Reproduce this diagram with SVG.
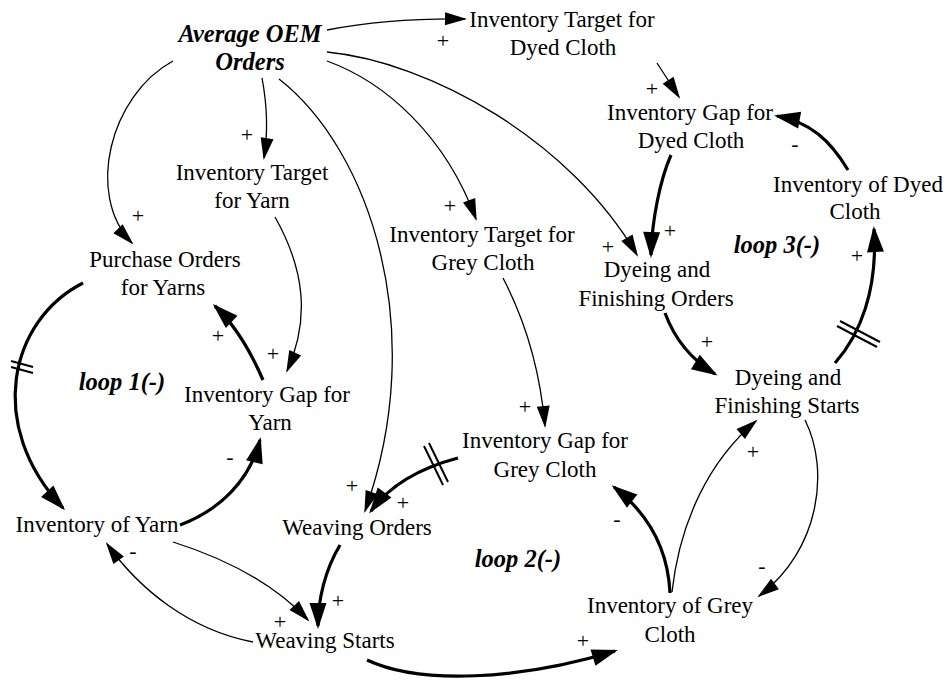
<svg xmlns="http://www.w3.org/2000/svg" width="946" height="680" viewBox="0 0 946 680">
<style>
text{font-family:"Liberation Serif","Times New Roman",serif;fill:#000}
.n{font-size:23px;text-anchor:middle}
.b{font-size:24.5px;font-weight:bold;font-style:italic;text-anchor:middle}
.p{font-size:22px;text-anchor:middle}
.thin{fill:none;stroke:#000;stroke-width:1.3;marker-end:url(#ah)}
.thick{fill:none;stroke:#000;stroke-width:3.2;marker-end:url(#ahb)}
.dl{stroke:#000;stroke-width:2;fill:none}
</style>
<defs>
<marker id="ah" markerUnits="userSpaceOnUse" markerWidth="22" markerHeight="13" refX="20" refY="6.5" orient="auto" overflow="visible">
<path d="M0,0 L22,6.5 L0,13 z" fill="#000"/>
</marker>
<marker id="ahb" markerUnits="userSpaceOnUse" markerWidth="26" markerHeight="17" refX="23" refY="8.5" orient="auto" overflow="visible">
<path d="M0,0 L26,8.5 L0,17 z" fill="#000"/>
</marker>
</defs>
<rect width="946" height="680" fill="#fff"/>

<g id="connectors">
<path class="thin" d="M327,30 Q390,18 465,19"/>
<path class="thin" d="M173,61 C110,95 85,195 132,243"/>
<path class="thin" d="M262,78 Q270,120 264,158"/>
<path class="thin" d="M279,79 C370,150 430,330 365,511"/>
<path class="thin" d="M327,61 C385,82 445,135 476,219"/>
<path class="thin" d="M327,52 C430,62 570,140 637,255"/>
<path class="thin" d="M657,63 Q668,80 679,97"/>
<path class="thick" d="M671,155 C660,180 652,220 651,255"/>
<path class="thick" d="M848,170 C830,140 810,122 777,116"/>
<path class="thick" d="M665,313 C675,340 692,360 715,374"/>
<path class="thick" d="M835,363 C860,335 878,290 874,229"/>
<line class="dl" x1="840" y1="321" x2="880" y2="342"/>
<line class="dl" x1="837" y1="326" x2="877" y2="347"/>
<path class="thick" d="M83,283 C10,320 -15,425 63,508"/>
<line class="dl" x1="11" y1="361" x2="33" y2="367"/>
<line class="dl" x1="11" y1="367" x2="33" y2="373"/>
<path class="thick" d="M263,380 C250,350 235,325 215,306"/>
<path class="thin" d="M275,217 C305,270 310,320 287,371"/>
<path class="thick" d="M180,525 C220,510 250,480 260,440"/>
<path class="thin" d="M173,542 C230,560 275,585 308,620"/>
<path class="thin" d="M253,642 C190,630 140,590 107,544"/>
<path class="thick" d="M340,545 C325,570 318,600 318,626"/>
<path class="thick" d="M458,458 C420,468 390,485 371,511"/>
<line class="dl" x1="424" y1="446" x2="443" y2="485"/>
<line class="dl" x1="429" y1="443" x2="448" y2="482"/>
<path class="thin" d="M503,278 C525,320 540,370 545,426"/>
<path class="thick" d="M670,593 C668,550 650,515 614,487"/>
<path class="thin" d="M672,592 C680,520 710,460 756,421"/>
<path class="thin" d="M805,420 C830,470 820,550 759,596"/>
<path class="thick" d="M367,660 C420,685 520,680 615,651"/>

<text class="p" x="443" y="48">+</text>
<text class="p" x="138" y="223">+</text>
<text class="p" x="247" y="142">+</text>
<text class="p" x="450" y="213">+</text>
<text class="p" x="608" y="254">+</text>
<text class="p" x="352" y="493">+</text>
<text class="p" x="652" y="96">+</text>
<text class="p" x="670" y="238">+</text>
<text class="p" x="795" y="151">-</text>
<text class="p" x="707" y="349">+</text>
<text class="p" x="857" y="263">+</text>
<text class="p" x="218" y="343">+</text>
<text class="p" x="273" y="361">+</text>
<text class="p" x="230" y="464">-</text>
<text class="p" x="280" y="629">+</text>
<text class="p" x="133" y="558">-</text>
<text class="p" x="338" y="608">+</text>
<text class="p" x="403" y="510">+</text>
<text class="p" x="525" y="414">+</text>
<text class="p" x="617" y="526">-</text>
<text class="p" x="753" y="459">+</text>
<text class="p" x="762" y="573">-</text>
<text class="p" x="583" y="648">+</text>
</g>

<g id="average-oem-orders"><text class="b" x="250" y="42">Average OEM</text><text class="b" x="250" y="70">Orders</text></g>
<g id="inventory-target-dyed"><text class="n" x="562" y="27">Inventory Target for</text><text class="n" x="563" y="55">Dyed Cloth</text></g>
<g id="inventory-gap-dyed"><text class="n" x="690" y="120">Inventory Gap for</text><text class="n" x="691" y="148">Dyed Cloth</text></g>
<g id="inventory-dyed"><text class="n" x="858" y="192">Inventory of Dyed</text><text class="n" x="855" y="219">Cloth</text></g>
<g id="inventory-target-yarn"><text class="n" x="252" y="180">Inventory Target</text><text class="n" x="252" y="208">for Yarn</text></g>
<g id="inventory-target-grey"><text class="n" x="482" y="242">Inventory Target for</text><text class="n" x="483" y="270">Grey Cloth</text></g>
<g id="dyeing-orders"><text class="n" x="657" y="277">Dyeing and</text><text class="n" x="656" y="306">Finishing Orders</text></g>
<g id="purchase-orders"><text class="n" x="165" y="267">Purchase Orders</text><text class="n" x="163" y="295">for Yarns</text></g>
<g id="loop1"><text class="b" x="122" y="390">loop 1(-)</text></g>
<g id="inventory-gap-yarn"><text class="n" x="267" y="402">Inventory Gap for</text><text class="n" x="270" y="430">Yarn</text></g>
<g id="dyeing-starts"><text class="n" x="788" y="385">Dyeing and</text><text class="n" x="787" y="413">Finishing Starts</text></g>
<g id="loop3"><text class="b" x="777" y="253">loop 3(-)</text></g>
<g id="inventory-gap-grey"><text class="n" x="545" y="448">Inventory Gap for</text><text class="n" x="545" y="477">Grey Cloth</text></g>
<g id="inventory-yarn"><text class="n" x="97" y="532">Inventory of Yarn</text></g>
<g id="weaving-orders"><text class="n" x="357" y="535">Weaving Orders</text></g>
<g id="loop2"><text class="b" x="518" y="567">loop 2(-)</text></g>
<g id="weaving-starts"><text class="n" x="325" y="648">Weaving Starts</text></g>
<g id="inventory-grey"><text class="n" x="670" y="613">Inventory of Grey</text><text class="n" x="670" y="642">Cloth</text></g>
</svg>
